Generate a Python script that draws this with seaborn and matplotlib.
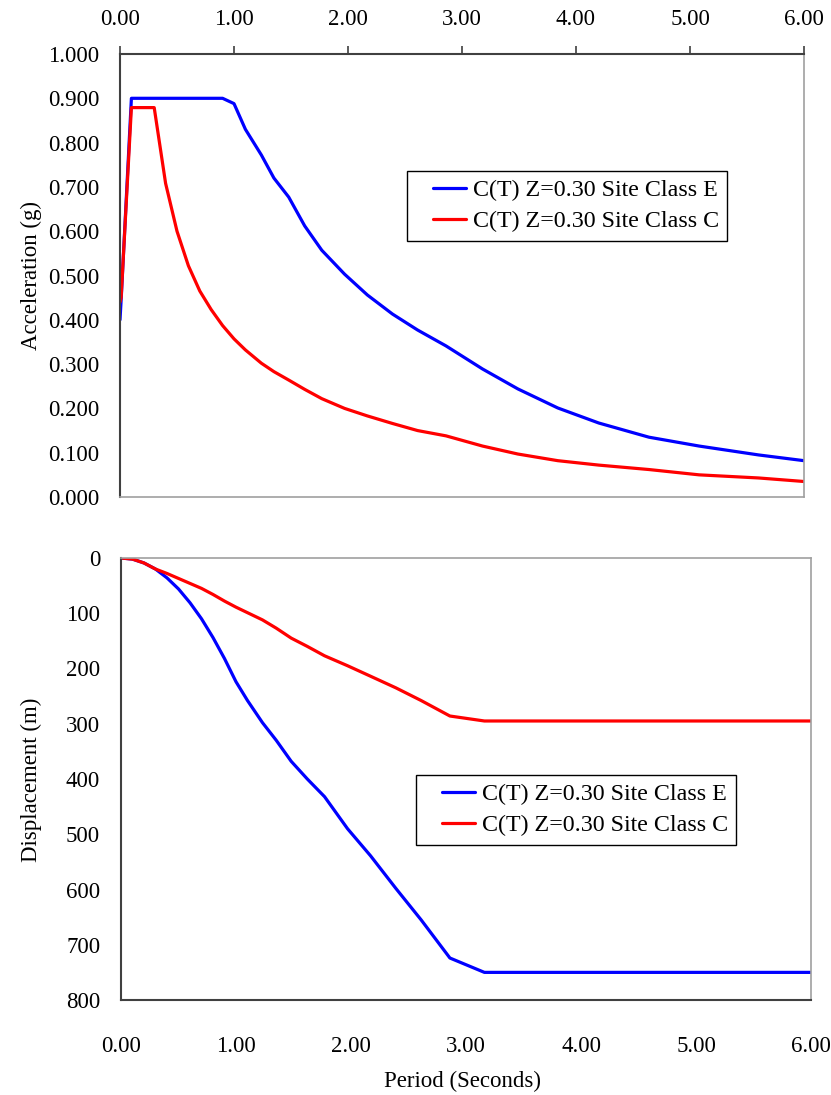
import numpy as np
import pandas as pd
import matplotlib
matplotlib.use("Agg")
import matplotlib.pyplot as plt
from matplotlib.ticker import FixedLocator, FormatStrFormatter
from matplotlib.legend_handler import HandlerLine2D
import seaborn as sns

# ---- data -------------------------------------------------------------
label_e = "C(T) Z=0.30 Site Class E"
label_c = "C(T) Z=0.30 Site Class C"

# spectral acceleration (g) versus period (s)
period_acc = [0.00, 0.01, 0.10, 0.20, 0.30, 0.40, 0.50, 0.60, 0.70, 0.80,
              0.90, 1.00, 1.10, 1.24, 1.35, 1.48, 1.62, 1.77, 1.97, 2.17,
              2.39, 2.61, 2.86, 3.18, 3.49, 3.84, 4.20, 4.64, 5.08, 5.60, 6.00]
acc_e = [0.400, 0.445, 0.900, 0.900, 0.900, 0.900, 0.900, 0.900, 0.900, 0.900,
         0.900, 0.888, 0.830, 0.772, 0.720, 0.677, 0.612, 0.557, 0.503, 0.456,
         0.413, 0.377, 0.341, 0.289, 0.244, 0.201, 0.167, 0.135, 0.115, 0.095, 0.082]
acc_c = [0.440, 0.450, 0.879, 0.879, 0.879, 0.708, 0.600, 0.522, 0.465, 0.423,
         0.387, 0.357, 0.332, 0.302, 0.283, 0.264, 0.243, 0.222, 0.200, 0.183,
         0.166, 0.150, 0.138, 0.115, 0.097, 0.082, 0.072, 0.062, 0.050, 0.043, 0.035]

# spectral displacement versus period (s)
period_disp = [0.00, 0.10, 0.20, 0.30, 0.40, 0.50, 0.60, 0.70, 0.80, 0.90,
               1.00, 1.10, 1.23, 1.35, 1.48, 1.62, 1.77, 1.97, 2.17, 2.39,
               2.61, 2.86, 3.16, 6.00]
disp_e = [0, 2, 9, 20, 36, 56, 81, 110, 144, 182,
          224, 258, 298, 330, 368, 400, 432, 490, 539, 598,
          655, 724, 750, 750]
disp_c = [0, 2, 9, 20, 28, 37, 46, 55, 66, 78,
          89, 99, 112, 127, 145, 160, 177, 195, 214, 235,
          258, 286, 295, 295]

acc_ticks = [0.0, 0.1, 0.2, 0.3, 0.4, 0.5, 0.6, 0.7, 0.8, 0.9, 1.0]
disp_ticks = [0, 100, 200, 300, 400, 500, 600, 700, 800]
period_ticks = [0, 1, 2, 3, 4, 5, 6]

# ---- tables -----------------------------------------------------------
acc_df = pd.concat([
    pd.DataFrame({"Period": period_acc, "Value": acc_e, "Series": label_e}),
    pd.DataFrame({"Period": period_acc, "Value": acc_c, "Series": label_c}),
], ignore_index=True)
disp_df = pd.concat([
    pd.DataFrame({"Period": period_disp, "Value": disp_e, "Series": label_e}),
    pd.DataFrame({"Period": period_disp, "Value": disp_c, "Series": label_c}),
], ignore_index=True)

# ---- style ------------------------------------------------------------
sns.set_theme(style="white")
plt.rcParams["font.family"] = ["Liberation Serif", "DejaVu Serif"]
plt.rcParams["text.color"] = "#000000"
FS = 16.5
LEG_FS = 17.3

palette = {label_e: "#0000ff", label_c: "#ff0000"}
dark = "#404040"
light = "#a0a0a0"

fig = plt.figure(figsize=(8.31, 10.95), dpi=100)
W, H = 831.0, 1095.0

def px_axes(x0, y0, x1, y1):
    return fig.add_axes([x0 / W, 1 - y1 / H, (x1 - x0) / W, (y1 - y0) / H])

ax1 = px_axes(120, 54, 804, 497)
ax2 = px_axes(121, 558, 811, 1000)

for ax, df in ((ax1, acc_df), (ax2, disp_df)):
    sns.lineplot(data=df, x="Period", y="Value", hue="Series",
                 hue_order=[label_e, label_c], palette=palette,
                 linewidth=2.3, estimator=None, sort=False,
                 legend=False, ax=ax)
    ax.set_xlim(0, 6)
    ax.xaxis.set_major_locator(FixedLocator(period_ticks))
    ax.xaxis.set_major_formatter(FormatStrFormatter("%.2f"))
    ax.set_xlabel("")
    ax.set_ylabel("")
    for s in ax.spines.values():
        s.set_linewidth(1.2)
        s.set_color(light)
    ax.spines["left"].set_color(dark)
    ax.spines["left"].set_linewidth(1.5)
    ax.tick_params(axis="both", labelsize=FS, colors=dark, labelcolor="#000000",
                   width=1.2, length=6, direction="out")
    ax.grid(False)

# top panel: acceleration, period axis along the top
ax1.set_ylim(0, 1.0)
ax1.yaxis.set_major_locator(FixedLocator(acc_ticks))
ax1.yaxis.set_major_formatter(FormatStrFormatter("%.3f"))
ax1.xaxis.tick_top()
ax1.spines["top"].set_color(dark)
ax1.spines["top"].set_linewidth(1.5)
ax1.tick_params(axis="x", pad=11)
ax1.tick_params(axis="y", pad=9)

# bottom panel: displacement, inverted depth-style axis
ax2.set_ylim(800, 0)
ax2.yaxis.set_major_locator(FixedLocator(disp_ticks))
ax2.yaxis.set_major_formatter(FormatStrFormatter("%d"))
ax2.spines["bottom"].set_color(dark)
ax2.spines["bottom"].set_linewidth(1.5)
ax2.tick_params(axis="x", pad=20)
ax2.tick_params(axis="y", pad=9)

fig.text(31 / W, 1 - 275 / H, "Acceleration (g)", rotation=90,
         ha="center", va="center", fontsize=FS)
fig.text(31 / W, 1 - 780 / H, "Displacement (m)", rotation=90,
         ha="center", va="center", fontsize=FS)
fig.text(462 / W, 1 - 1081 / H, "Period (Seconds)",
         ha="center", va="center", fontsize=FS)

handler = {matplotlib.lines.Line2D: HandlerLine2D(xpad=0.75)}
for ax, (lx, ly) in ((ax1, (407, 171)), (ax2, (416, 775))):
    leg = ax.legend(handles=ax.lines[:2], labels=[label_e, label_c],
                    loc="upper left", bbox_to_anchor=(lx / W, 1 - ly / H),
                    bbox_transform=fig.transFigure, borderaxespad=0,
                    fontsize=LEG_FS, frameon=True, fancybox=False, shadow=False,
                    borderpad=0.35, handlelength=2.1, handletextpad=0.28,
                    labelspacing=0.38, handler_map=handler)
    fr = leg.get_frame()
    fr.set_edgecolor("#000000")
    fr.set_linewidth(1.0)
    fr.set_facecolor("white")
    fr.set_alpha(1.0)

fig.savefig("out.png", dpi=100, facecolor="white")
